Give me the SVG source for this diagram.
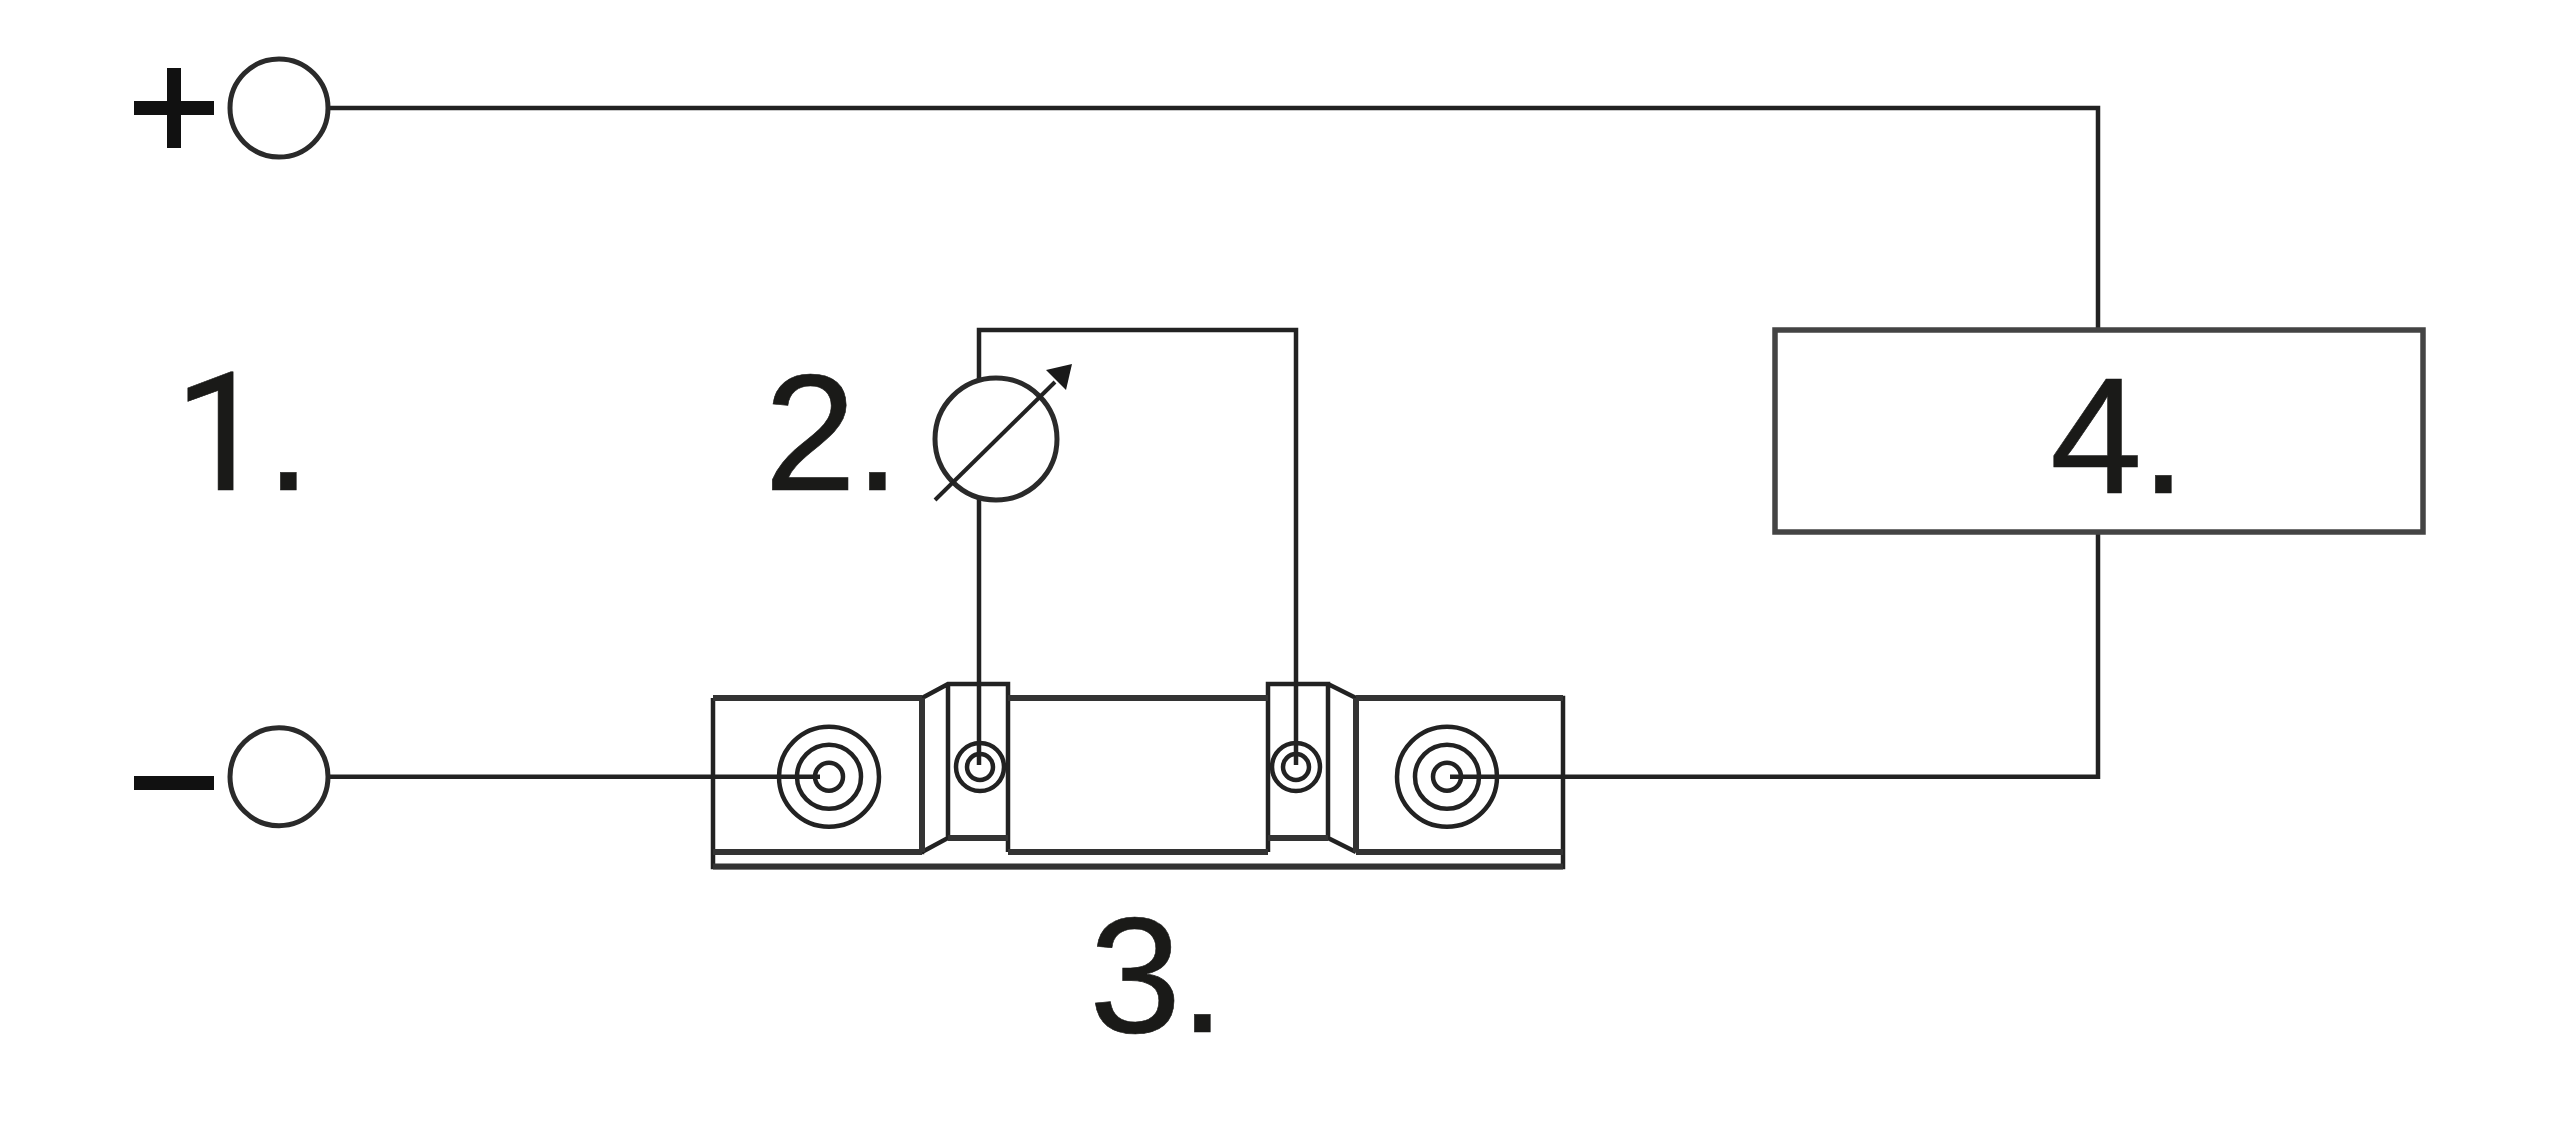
<svg xmlns="http://www.w3.org/2000/svg" width="2560" height="1126" viewBox="0 0 2560 1126">
<style>
.w{fill:none;stroke:#222;stroke-width:4.5;stroke-linejoin:miter}
.t{fill:none;stroke:#333;stroke-width:6}
.c{fill:#fff;stroke:#2a2a2a;stroke-width:5}
.r{fill:none;stroke:#222;stroke-width:4.5}
.l{font-family:"Liberation Sans",Arial,sans-serif;font-size:166px;letter-spacing:-2px;fill:#1a1a18;stroke:#1a1a18;stroke-width:0.6}
.one{font-family:Roboto,"Liberation Sans",sans-serif}
.dot{font-family:"Liberation Sans",Arial,sans-serif}
</style>
<rect width="2560" height="1126" fill="#fff"/>
<g id="connectors">
<path class="w" d="M327 108H2098V330"/>
<path class="w" d="M2098 532V776.7H1450"/>
<path class="w" d="M327 776.7H820"/>
<path class="w" d="M979 765V330H1296V765"/>
</g>
<g id="plus-terminal">
<path d="M134 108H214M174 68V148" fill="none" stroke="#111" stroke-width="14"/>
<circle class="c" cx="279" cy="108" r="49"/>
</g>
<g id="minus-terminal">
<path d="M134 783H214" fill="none" stroke="#111" stroke-width="14"/>
<circle class="c" cx="279" cy="776.700" r="49"/>
</g>
<g id="meter">
<circle class="c" cx="996" cy="439" r="61"/>
<path d="M935 500L1055 382" fill="none" stroke="#222" stroke-width="4"/>
<path d="M1072 364L1046 370L1066 390Z" fill="#1a1a1a"/>
<text class="l" x="764" y="490">2.</text>
</g>
<g id="load">
<rect x="1775" y="330" width="648" height="202" fill="#fff" stroke="#444" stroke-width="5.500"/>
<text class="l" x="2050" y="493">4.</text>
</g>
<g id="shunt">
<path class="w" d="M713 698V867H1563V698H1356V852M713 852H922V698H713M922 698L948 684H1008V852M922 852L948 838V684M1008 698H1268M1008 852H1268M1268 852V684H1328V838H1268M1328 684L1356 698M1328 838L1356 852M1356 852H1563"/>
<path class="t" d="M948 838H1008M1268 838H1328M713 852H922M1356 852H1563M1008 852H1268M713 866.500H1563"/>
<path class="t" d="M713 698H922M1008 698H1268M1356 698H1563M922 698V852M1356 698V852"/>
<circle class="r" cx="829" cy="776.700" r="50"/>
<circle class="r" cx="829" cy="776.700" r="32"/>
<circle class="r" cx="829" cy="776.700" r="14"/>
<circle class="r" cx="1447" cy="776.700" r="50"/>
<circle class="r" cx="1447" cy="776.700" r="32"/>
<circle class="r" cx="1447" cy="776.700" r="14"/>
<circle class="r" cx="980" cy="767" r="24"/>
<circle class="r" cx="980" cy="767" r="13"/>
<circle class="r" cx="1296" cy="767" r="24"/>
<circle class="r" cx="1296" cy="767" r="13"/>
</g>
<g id="labels">
<text class="l one" x="174" y="490">1<tspan class="dot">.</tspan></text>
<text class="l" x="1089" y="1032">3.</text>
</g>
</svg>
